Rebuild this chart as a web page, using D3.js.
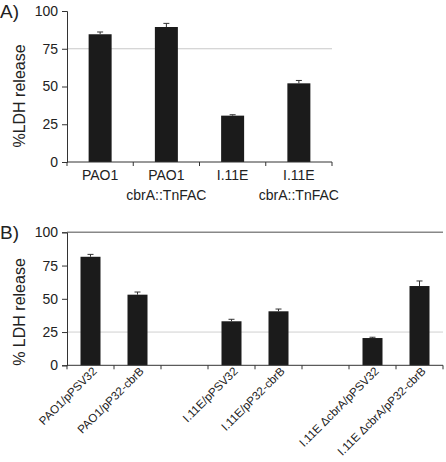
<!DOCTYPE html>
<html><head><meta charset="utf-8">
<script src="https://cdn.jsdelivr.net/npm/d3@7"></script>
<style>
body{margin:0;background:#fff;}
svg{display:block;font-family:"Liberation Sans",Arial,sans-serif;}
</style></head><body>
<svg id="c" width="446" height="462"></svg>
<script>
// Panel A data
const catsA = [["PAO1",""],["PAO1","cbrA::TnFAC"],["I.11E",""],["I.11E","cbrA::TnFAC"]];
const valsA = [84.6, 89.4, 30.7, 52.1];
const errA  = [1.5, 2.4, 0.6, 1.9];
// Panel B data (blank slots are gaps)
const catsB = ["PAO1/pPSV32","PAO1/pP32-cbrB","","I.11E/pPSV32","I.11E/pP32-cbrB","","I.11E \u0394cbrA/pPSV32","I.11E \u0394cbrA/pP32-cbrB"];
const valsB = [81.6, 53.1, null, 33.1, 40.6, null, 20.5, 59.6];
const errB  = [1.8, 2.0, null, 1.5, 1.7, null, 0.6, 3.8];
const yTicks = [0, 25, 50, 75, 100];

const svg = d3.select("#c");
const barColor = "#1b1b1b";

function panel(o){
  const g = svg.append("g");
  const x = d3.scaleBand().domain(d3.range(o.n)).range([o.x0, o.x1]);
  const y = d3.scaleLinear().domain([0,100]).range([o.y0, o.y1]);
  o.grids.forEach(gd=>{
    g.append("line").attr("x1",o.x0).attr("x2",o.x1)
      .attr("y1",y(gd.v)).attr("y2",y(gd.v))
      .attr("stroke",gd.c).attr("stroke-width",gd.w);
  });
  o.vals.forEach((v,i)=>{
    if(v==null) return;
    const cx = x(i)+x.bandwidth()/2;
    g.append("rect").attr("x",cx-o.bw/2).attr("width",o.bw)
      .attr("y",y(v)).attr("height",y(0)-y(v)).attr("fill",barColor);
    const e = o.errs[i];
    g.append("line").attr("x1",cx).attr("x2",cx).attr("y1",y(v)).attr("y2",y(v+e))
      .attr("stroke","#333").attr("stroke-width",1);
    g.append("line").attr("x1",cx-3).attr("x2",cx+3).attr("y1",y(v+e)).attr("y2",y(v+e))
      .attr("stroke","#333").attr("stroke-width",1);
  });
  const ya = d3.axisLeft(y).tickValues(yTicks).tickSize(5).tickPadding(4);
  const yg = g.append("g").attr("transform",`translate(${o.x0},0)`).call(ya);
  yg.select(".domain").attr("stroke","#333");
  yg.selectAll(".tick line").attr("stroke","#333");
  yg.selectAll("text").attr("font-size",14).attr("fill","#222").attr("font-family","Liberation Sans, Arial, sans-serif");
  g.append("line").attr("x1",o.x0).attr("x2",o.x1).attr("y1",y(0)).attr("y2",y(0)).attr("stroke","#333");
  d3.range(o.n+1).forEach(i=>{
    const tx = o.x0 + i*x.step();
    g.append("line").attr("x1",tx).attr("x2",tx).attr("y1",y(0)).attr("y2",y(0)+4).attr("stroke","#333");
  });
  g.append("text").attr("transform",`translate(${o.ylx},${o.ylc}) rotate(-90)`)
    .attr("text-anchor","middle").attr("font-size",16).attr("fill","#222").text(o.ylabel);
  g.append("text").attr("x",0).attr("y",o.y1+7).attr("font-size",19).attr("fill","#222").text(o.letter);
  return {g,x,y};
}

const A = panel({n:4,x0:67,x1:332,y0:162,y1:11,bw:23,vals:valsA,errs:errA,
  grids:[{v:75,c:"#c8c8c8",w:1}],ylabel:"%LDH release",ylx:25,ylc:96,letter:"A)"});
catsA.forEach((c,i)=>{
  const cx = A.x(i)+A.x.bandwidth()/2;
  A.g.append("text").attr("x",cx).attr("y",180).attr("text-anchor","middle")
    .attr("font-size",14).attr("fill","#222").text(c[0]);
  if(c[1]) A.g.append("text").attr("x",cx).attr("y",200).attr("text-anchor","middle")
    .attr("font-size",14).attr("fill","#222").text(c[1]);
});

const B = panel({n:8,x0:67,x1:443,y0:365.3,y1:232.3,bw:20,vals:valsB,errs:errB,
  grids:[{v:25,c:"#d0d0d0",w:1},{v:100,c:"#888",w:1.5}],ylabel:"% LDH release",ylx:25,ylc:312,letter:"B)"});
catsB.forEach((c,i)=>{
  if(!c) return;
  const cx = B.x(i)+B.x.bandwidth()/2;
  B.g.append("text").attr("transform",`translate(${cx+7},${372}) rotate(-45)`)
    .attr("text-anchor","end").attr("font-size",11.6).attr("fill","#222").text(c);
});
</script>
</body></html>
